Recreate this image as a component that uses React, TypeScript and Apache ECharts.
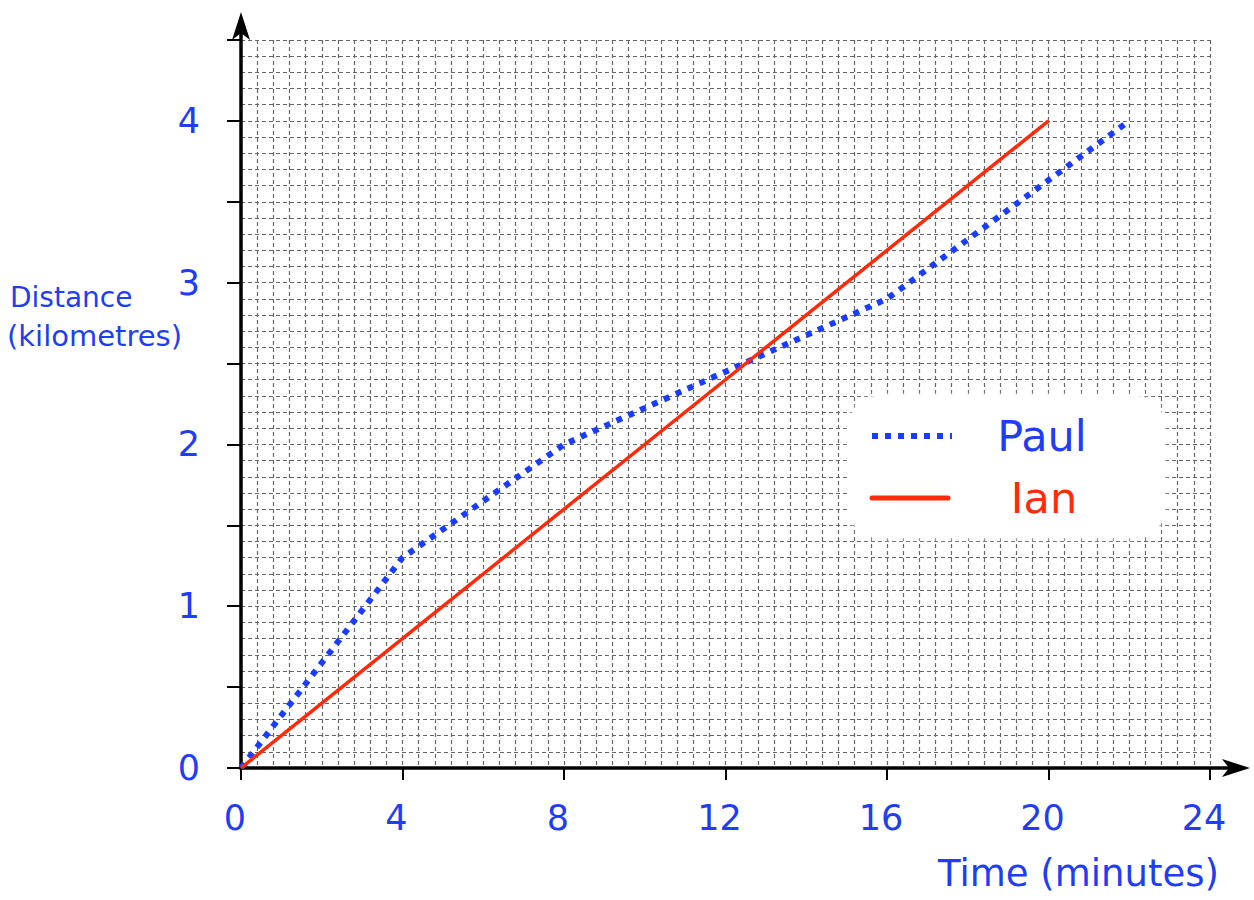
import React, { useEffect, useRef } from "react";
import * as echarts from "echarts";

const paulData: [number, number][] = [
  [0, 0],
  [4, 1.3],
  [8, 2.0],
  [12, 2.45],
  [16, 2.9],
  [22, 4.0],
];
const ianData: [number, number][] = [
  [0, 0],
  [20, 4],
];
const xTicks = { min: 0, max: 24, interval: 4, minor: 0.4 };
const yTicks = { min: 0, max: 4.5, interval: 0.5, minor: 0.1 };
const legendNames = ["Paul", "Ian"];
const xTitle = "Time (minutes)";
const yTitle = ["Distance", "(kilometres)"];

const BLUE = "#1f3df5";
const PAUL = "#1a3cff";
const RED = "#ff2a0a";
const FONT = "DejaVu Sans";

export default function App() {
  const ref = useRef<HTMLDivElement>(null);
  useEffect(() => {
    if (!ref.current) return;
    const chart = echarts.init(ref.current, undefined, { renderer: "svg" });
    const gridStyle = { color: "#666", width: 1.2, type: [4, 3] as any };
    chart.setOption({
      animation: false,
      backgroundColor: "#fff",
      grid: { left: 241, right: 44, top: 40, bottom: 132 },
      xAxis: [
        {
          type: "value",
          min: xTicks.min,
          max: xTicks.max,
          interval: xTicks.interval,
          position: "bottom",
          axisLine: { show: false },
          axisTick: { show: true, length: 12, lineStyle: { color: "#000", width: 2 } },
          axisLabel: {
            color: BLUE,
            fontSize: 35,
            fontFamily: FONT,
            margin: 32,
            padding: [0, 12, 0, 0],
          },
          splitLine: { show: false },
        },
        {
          type: "value",
          min: xTicks.min,
          max: xTicks.max,
          interval: xTicks.minor,
          position: "top",
          axisLine: { show: false },
          axisTick: { show: false },
          axisLabel: { show: false },
          splitLine: { show: true, lineStyle: gridStyle },
        },
      ],
      yAxis: [
        {
          type: "value",
          min: yTicks.min,
          max: yTicks.max,
          interval: yTicks.interval,
          position: "left",
          axisLine: { show: false },
          axisTick: { show: true, length: 14, lineStyle: { color: "#000", width: 2 } },
          axisLabel: {
            color: BLUE,
            fontSize: 35,
            fontFamily: FONT,
            margin: 41,
            formatter: (v: number) => (Number.isInteger(v) ? String(v) : ""),
          },
          splitLine: { show: false },
        },
        {
          type: "value",
          min: yTicks.min,
          max: yTicks.max,
          interval: yTicks.minor,
          position: "right",
          axisLine: { show: false },
          axisTick: { show: false },
          axisLabel: { show: false },
          splitLine: { show: true, lineStyle: gridStyle },
        },
      ],
      series: [
        {
          name: legendNames[0],
          type: "line",
          data: paulData,
          symbol: "none",
          z: 5,
          lineStyle: { color: PAUL, width: 6, type: [6, 7], cap: "butt" },
        },
        {
          name: legendNames[1],
          type: "line",
          data: ianData,
          symbol: "none",
          z: 5,
          lineStyle: { color: RED, width: 3.5 },
        },
      ],
    });

    const o = chart.convertToPixel({ gridIndex: 0 }, [0, 0]) as number[];
    const yTop = 12;
    const xEnd = 1250;
    chart.setOption({
      graphic: [
        {
          type: "line",
          z: 3,
          shape: { x1: o[0], y1: o[1] + 1.5, x2: o[0], y2: yTop + 14 },
          style: { stroke: "#000", lineWidth: 3.5 },
        },
        {
          type: "polygon",
          z: 3,
          shape: { points: [[o[0], yTop], [o[0] - 9, yTop + 28], [o[0], yTop + 21], [o[0] + 9, yTop + 28]] },
          style: { fill: "#000" },
        },
        {
          type: "line",
          z: 3,
          shape: { x1: o[0] - 1.5, y1: o[1], x2: xEnd - 14, y2: o[1] },
          style: { stroke: "#000", lineWidth: 3.5 },
        },
        {
          type: "polygon",
          z: 3,
          shape: { points: [[xEnd, o[1]], [xEnd - 28, o[1] - 9], [xEnd - 21, o[1]], [xEnd - 28, o[1] + 9]] },
          style: { fill: "#000" },
        },
        {
          type: "text",
          left: 10,
          top: 283,
          style: { text: yTitle[0], fill: BLUE, font: `28px ${FONT}` },
        },
        {
          type: "text",
          left: 7,
          top: 321,
          style: { text: yTitle[1], fill: BLUE, font: `29px ${FONT}` },
        },
        {
          type: "text",
          left: 938,
          top: 855,
          style: { text: xTitle, fill: BLUE, font: `37px ${FONT}` },
        },
        {
          type: "group",
          left: 850,
          top: 396,
          z: 10,
          children: [
            {
              type: "rect",
              shape: { x: 0, y: 0, width: 314, height: 142, r: 28 },
              style: { fill: "#fff", shadowBlur: 6, shadowColor: "rgba(255,255,255,1)" },
            },
            {
              type: "line",
              shape: { x1: 22, y1: 40, x2: 102, y2: 40 },
              style: { stroke: PAUL, lineWidth: 6, lineDash: [6, 7] },
            },
            {
              type: "line",
              shape: { x1: 22, y1: 102, x2: 98, y2: 102 },
              style: { stroke: RED, lineWidth: 5, lineCap: "round" },
            },
            {
              type: "text",
              x: 192,
              y: 40,
              style: { text: legendNames[0], fill: BLUE, font: `43px ${FONT}`, align: "center", verticalAlign: "middle" },
            },
            {
              type: "text",
              x: 194,
              y: 102,
              style: { text: legendNames[1], fill: RED, font: `43px ${FONT}`, align: "center", verticalAlign: "middle" },
            },
          ],
        },
      ],
    });
    return () => chart.dispose();
  }, []);
  return (
    <div
      ref={ref}
      style={{ position: "fixed", left: 0, top: 0, width: 1254, height: 900 }}
    />
  );
}
